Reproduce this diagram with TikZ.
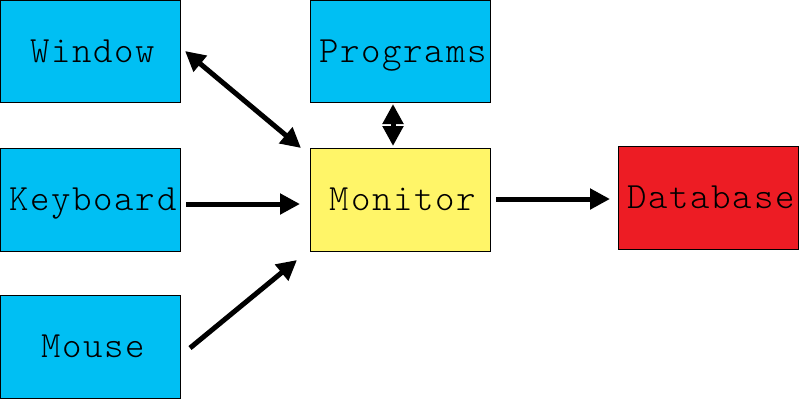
\documentclass[tikz,border=0pt]{standalone}
\usepackage{fontspec}
\newfontfamily\boxfont[LetterSpace=4.5]{Latin Modern Mono Light}
\usepackage{tikz}
\usetikzlibrary{arrows.meta}

\definecolor{boxblue}{RGB}{0,191,243}
\definecolor{boxyellow}{RGB}{255,245,104}
\definecolor{boxred}{RGB}{237,28,36}

\begin{document}
\begin{tikzpicture}[x=0.02cm, y=-0.02cm,
        >={Triangle[length=0.4cm, width=0.4cm]},
        box/.style={draw=black, line width=0.02cm, minimum width=3.6cm, minimum height=2.06cm,
                    inner sep=0pt, text height=0.52cm, text depth=0.1cm,
                    execute at begin node=\hspace*{0.1cm},
                    font=\fontsize{21.07}{25}\boxfont},
        link/.style={line width=0.1cm}]
            \useasboundingbox (0,0) rectangle (800,400);

            % 节点
            \node[box, fill=boxblue] (window)   at (90.5,51.5)  {Window};
            \node[box, fill=boxblue] (keyboard) at (90.5,199.5) {Keyboard};
            \node[box, fill=boxblue] (mouse)    at (90.5,346.5) {Mouse};
            \node[box, fill=boxblue] (programs) at (400.5,51.5) {Programs};
            \node[box, fill=boxyellow] (monitor) at (400.5,199.5) {Monitor};
            \node[box, fill=boxred] (database) at (708.5,197.5) {Database};

            % 箭头端点
            \coordinate (winEnd) at (185,51);
            \coordinate (monWin) at (301,148);
            \coordinate (progEnd) at (393,104);
            \coordinate (monProg) at (393,146);
            \coordinate (keyEnd) at (186,204);
            \coordinate (monKey) at (300,204);
            \coordinate (mouseEnd) at (190,348);
            \coordinate (monMouse) at (297,260);
            \coordinate (monOut) at (496,199);
            \coordinate (dbIn) at (610,199);

            % 箭头
            \draw[link, <->] (winEnd) -- (monWin);
            \draw[link, <->] (progEnd) -- (monProg);
            \draw[link, ->] (keyEnd) -- (monKey);
            \draw[link, ->] (mouseEnd) -- (monMouse);
            \draw[link, ->] (monOut) -- (dbIn);
\end{tikzpicture}
\end{document}
